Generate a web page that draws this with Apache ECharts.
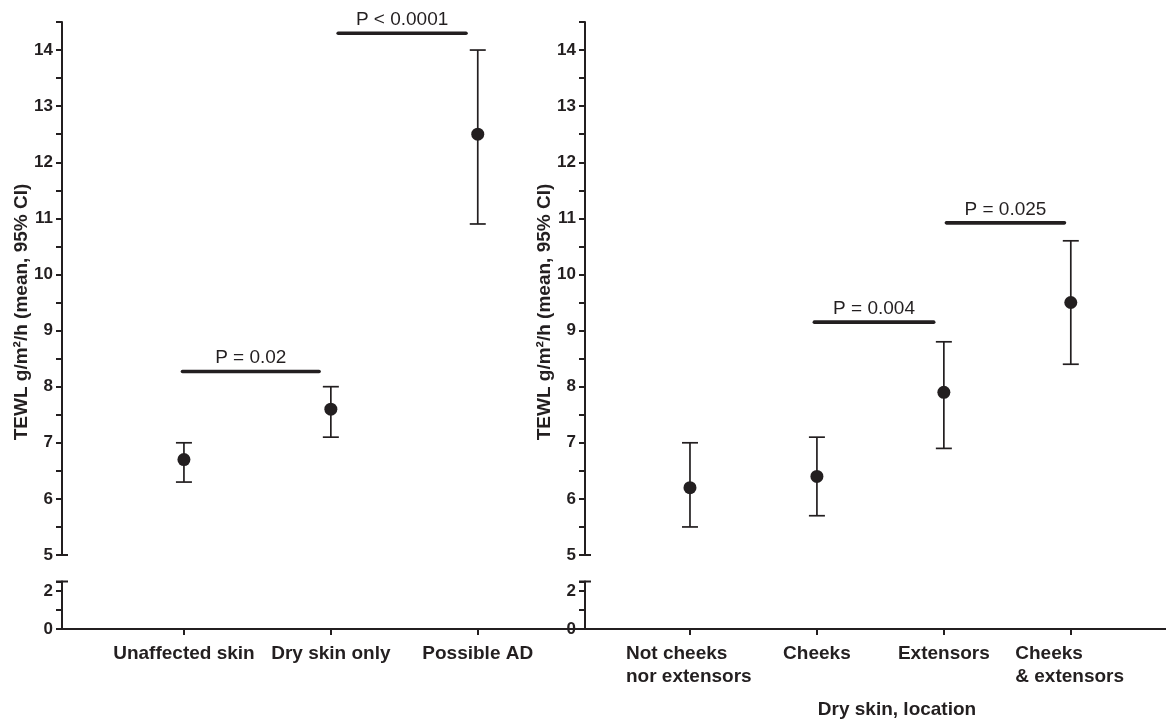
<!DOCTYPE html>
<html>
<head>
<meta charset="utf-8">
<script src="https://cdn.jsdelivr.net/npm/echarts@6/dist/echarts.min.js"></script>
<style>
html,body{margin:0;padding:0;background:#fff;}
#chart{width:1166px;height:724px;}
</style>
</head>
<body>
<div id="chart"></div>
<script>
// ---- data ----
const leftCategories = ['Unaffected skin', 'Dry skin only', 'Possible AD'];
const leftMean = [6.7, 7.6, 12.5];
const leftLow = [6.3, 7.1, 10.9];
const leftHigh = [7.0, 8.0, 14.0];

const rightCategories = ['Not cheeks\nnor extensors', 'Cheeks', 'Extensors', 'Cheeks\n& extensors'];
const rightMean = [6.2, 6.4, 7.9, 9.5];
const rightLow = [5.5, 5.7, 6.9, 8.4];
const rightHigh = [7.0, 7.1, 8.8, 10.6];

const upperTickLabels = [5, 6, 7, 8, 9, 10, 11, 12, 13, 14];
const lowerTickLabels = [0, 2];
const lowerTicks = [0, 1, 2, 2.5];

const leftPLabels = ['P = 0.02', 'P < 0.0001'];
const leftPFrom = [0.99, 2.05];
const leftPTo = [1.92, 2.92];
const leftPY = [8.27, 14.3];

const rightPLabels = ['P = 0.004', 'P = 0.025'];
const rightPFrom = [1.98, 3.02];
const rightPTo = [2.92, 3.95];
const rightPY = [9.15, 10.92];

const yTitle = 'TEWL g/m²/h (mean, 95% CI)';
const xTitleRight = 'Dry skin, location';

// ---- styles ----
const INK = '#231f20';
const FONT = "'Liberation Sans', Arial, Helvetica, sans-serif";

const chart = echarts.init(document.getElementById('chart'), null, {renderer: 'canvas'});

function errData(low, high) {
  return low.map((l, i) => [i + 1, l, high[i]]);
}
function meanData(mean) {
  return mean.map((m, i) => [i + 1, m]);
}
function pData(from, to, y) {
  return from.map((f, i) => [f, to[i], y[i]]);
}
const pText = {pLeft: leftPLabels, pRight: rightPLabels};

function renderErr(params, api) {
  const x = api.value(0), lo = api.value(1), hi = api.value(2);
  const a = api.coord([x, hi]), b = api.coord([x, lo]);
  const w = 8;
  const st = {stroke: INK, lineWidth: 1.7};
  return {type: 'group', children: [
    {type: 'line', shape: {x1: a[0], y1: a[1], x2: b[0], y2: b[1]}, style: st},
    {type: 'line', shape: {x1: a[0] - w, y1: a[1], x2: a[0] + w, y2: a[1]}, style: st},
    {type: 'line', shape: {x1: b[0] - w, y1: b[1], x2: b[0] + w, y2: b[1]}, style: st}
  ]};
}
function renderP(params, api) {
  const x1 = api.value(0), x2 = api.value(1), y = api.value(2);
  const label = pText[params.seriesName][params.dataIndex];
  const a = api.coord([x1, y]), b = api.coord([x2, y]);
  return {type: 'group', children: [
    {type: 'line', shape: {x1: a[0], y1: a[1], x2: b[0], y2: b[1]},
      style: {stroke: INK, lineWidth: 3.6, lineCap: 'round'}},
    {type: 'text', x: (a[0] + b[0]) / 2, y: a[1] - 4,
      style: {text: label, fill: INK, font: '19px ' + FONT, align: 'center', verticalAlign: 'bottom'}}
  ]};
}

const gridTop = 22, upperH = 533, lowerTop = 581.5, lowerH = 47.5;
const grids = [
  {left: 62, top: gridTop, width: 523, height: upperH},
  {left: 62, top: lowerTop, width: 523, height: lowerH},
  {left: 585, top: gridTop, width: 581, height: upperH},
  {left: 585, top: lowerTop, width: 581, height: lowerH}
];

const axisLine = {show: true, lineStyle: {color: INK, width: 2}};
const yLabelStyle = {color: INK, fontFamily: FONT, fontWeight: 'bold', fontSize: 17, margin: 9};

function upperY(idx) {
  return {type: 'value', gridIndex: idx, min: 5, max: 14.5, interval: 0.5,
    axisLine: axisLine, splitLine: {show: false},
    axisTick: {show: true, inside: false, length: 6, lineStyle: {color: INK, width: 2}},
    axisLabel: Object.assign({}, yLabelStyle, {
      formatter: v => (upperTickLabels.indexOf(v) >= 0 ? String(v) : '')
    })};
}
function lowerY(idx) {
  return {type: 'value', gridIndex: idx, min: 0, max: 2.5,
    axisLine: axisLine, splitLine: {show: false},
    axisTick: {show: true, inside: false, length: 6, customValues: lowerTicks, lineStyle: {color: INK, width: 2}},
    axisLabel: Object.assign({}, yLabelStyle, {customValues: lowerTickLabels, formatter: v => String(v)})};
}
const xLabelStyle = {color: INK, fontFamily: FONT, fontWeight: 'bold', fontSize: 19, margin: 13, lineHeight: 23};

const leftXMin = 0.17, leftXMax = 3.73;
const rightXMin = 0.173, rightXMax = 4.75;

const option = {
  animation: false,
  backgroundColor: '#fff',
  grid: grids,
  xAxis: [
    {type: 'value', gridIndex: 0, min: leftXMin, max: leftXMax, show: false},
    {type: 'value', gridIndex: 1, min: leftXMin, max: leftXMax,
      axisLine: axisLine, splitLine: {show: false},
      axisTick: {show: true, inside: false, length: 6, customValues: [1, 2, 3], lineStyle: {color: INK, width: 2}},
      axisLabel: Object.assign({}, xLabelStyle, {customValues: [1, 2, 3], formatter: v => leftCategories[Math.round(v) - 1]})},
    {type: 'value', gridIndex: 2, min: rightXMin, max: rightXMax, show: false},
    {type: 'value', gridIndex: 3, min: rightXMin, max: rightXMax,
      axisLine: axisLine, splitLine: {show: false},
      axisTick: {show: true, inside: false, length: 6, customValues: [1, 2, 3, 4], lineStyle: {color: INK, width: 2}},
      axisLabel: Object.assign({}, xLabelStyle, {
        customValues: [1, 2, 3, 4],
        formatter: v => {
          const i = Math.round(v) - 1;
          const parts = rightCategories[i].split('\n');
          if (parts.length === 1) return parts[0];
          const key = 'w' + i;
          return parts.map(p => '{' + key + '|' + p + '}').join('\n');
        },
        rich: {
          w0: {width: 128, align: 'left', color: INK, fontFamily: FONT, fontWeight: 'bold', fontSize: 19, lineHeight: 23},
          w3: {width: 111, align: 'left', color: INK, fontFamily: FONT, fontWeight: 'bold', fontSize: 19, lineHeight: 23}
        }
      })}
  ],
  yAxis: [upperY(0), lowerY(1), upperY(2), lowerY(3)],
  series: [
    {type: 'custom', name: 'errLeft', xAxisIndex: 0, yAxisIndex: 0, renderItem: renderErr, data: errData(leftLow, leftHigh), silent: true},
    {type: 'scatter', name: 'meanLeft', xAxisIndex: 0, yAxisIndex: 0, symbol: 'circle', symbolSize: 13,
      itemStyle: {color: INK, opacity: 1}, data: meanData(leftMean), silent: true, z: 5},
    {type: 'custom', name: 'pLeft', xAxisIndex: 0, yAxisIndex: 0, renderItem: renderP,
      data: pData(leftPFrom, leftPTo, leftPY), silent: true},
    {type: 'custom', name: 'errRight', xAxisIndex: 2, yAxisIndex: 2, renderItem: renderErr, data: errData(rightLow, rightHigh), silent: true},
    {type: 'scatter', name: 'meanRight', xAxisIndex: 2, yAxisIndex: 2, symbol: 'circle', symbolSize: 13,
      itemStyle: {color: INK, opacity: 1}, data: meanData(rightMean), silent: true, z: 5},
    {type: 'custom', name: 'pRight', xAxisIndex: 2, yAxisIndex: 2, renderItem: renderP,
      data: pData(rightPFrom, rightPTo, rightPY), silent: true}
  ],
  graphic: [
    {type: 'text', x: 22, y: 312, rotation: Math.PI / 2,
      style: {text: yTitle, fill: INK, font: 'bold 19px ' + FONT, align: 'center', verticalAlign: 'middle'}},
    {type: 'text', x: 545, y: 312, rotation: Math.PI / 2,
      style: {text: yTitle, fill: INK, font: 'bold 19px ' + FONT, align: 'center', verticalAlign: 'middle'}},
    {type: 'text', x: 897, y: 710,
      style: {text: xTitleRight, fill: INK, font: 'bold 19px ' + FONT, align: 'center', verticalAlign: 'middle'}}
  ]
};
chart.setOption(option);

// axis-break caps: short marks crossing the y axes at the ends of each segment
const capEls = [];
[[0, 5], [1, 2.5], [2, 5], [3, 2.5]].forEach(([g, v]) => {
  const xMin = g < 2 ? leftXMin : rightXMin;
  const p = chart.convertToPixel({gridIndex: g}, [xMin, v]);
  capEls.push({type: 'line', shape: {x1: p[0] - 6, y1: p[1], x2: p[0] + 6, y2: p[1]},
    style: {stroke: INK, lineWidth: 2}, silent: true});
});
chart.setOption({graphic: option.graphic.concat(capEls)});
</script>
</body>
</html>
